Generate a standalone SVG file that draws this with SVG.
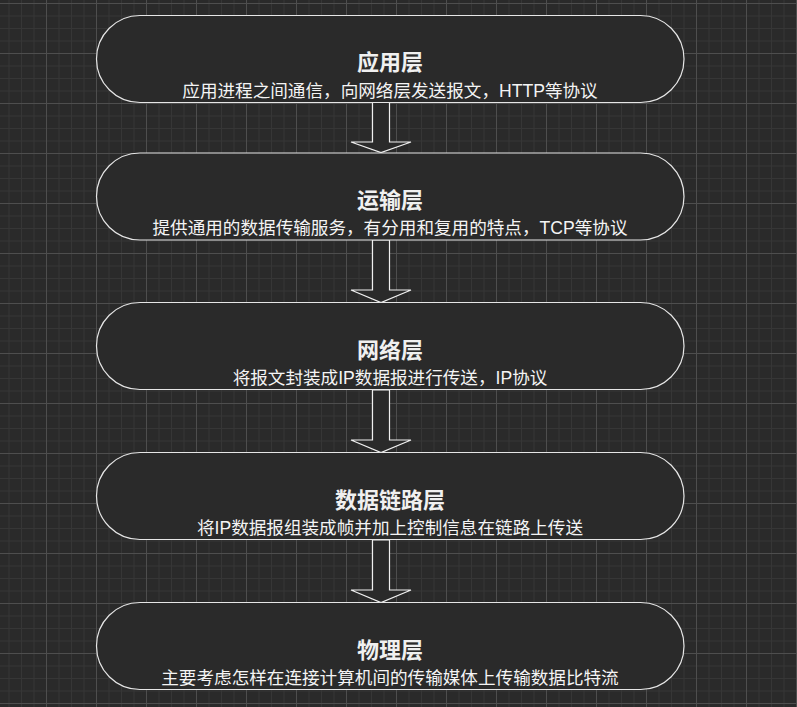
<svg xmlns="http://www.w3.org/2000/svg" width="797" height="707" viewBox="0 0 797 707">
<defs>
<pattern id="grid" patternUnits="userSpaceOnUse" x="-4" y="3" width="50" height="50">
<rect width="50" height="50" fill="#2a2a2a"/>
<rect x="12.5" y="0" width="1" height="50" fill="#363636"/>
<rect x="25" y="0" width="1" height="50" fill="#363636"/>
<rect x="37.5" y="0" width="1" height="50" fill="#363636"/>
<rect x="0" y="12.5" width="50" height="1" fill="#363636"/>
<rect x="0" y="25" width="50" height="1" fill="#363636"/>
<rect x="0" y="37.5" width="50" height="1" fill="#363636"/>
<rect x="0" y="0" width="1" height="50" fill="#4e4e4e"/>
<rect x="0" y="0" width="50" height="1" fill="#4e4e4e"/>
</pattern>
<style>
.node{fill:#2a2a2a;stroke:#e6e6e6;stroke-width:1.2}
.arrow{fill:#2a2a2a;stroke:#f0f0f0;stroke-width:1.2;stroke-linejoin:miter}
.title{font-family:"Liberation Sans","Noto Sans CJK SC",sans-serif;font-size:22px;font-weight:bold;fill:#f0f0f0;text-anchor:middle}
.sub{font-family:"Liberation Sans","Noto Sans CJK SC",sans-serif;font-size:17.6px;fill:#f4f4f4;text-anchor:middle}
</style>
</defs>
<rect width="797" height="707" fill="url(#grid)"/>
<g id="connectors">
<polygon class="arrow" points="372.5,102.5 389.5,102.5 389.5,142 411,142 381,152.5 351,142 372.5,142"/>
<polygon class="arrow" points="372.5,240 389.5,240 389.5,290 411,290 381,302.5 351,290 372.5,290"/>
<polygon class="arrow" points="372.5,390 389.5,390 389.5,440 411,440 381,452.5 351,440 372.5,440"/>
<polygon class="arrow" points="372.5,540 389.5,540 389.5,590 411,590 381,602.5 351,590 372.5,590"/>
</g>
<g id="node-app">
<rect class="node" x="96.5" y="15.5" width="587.5" height="87" rx="43.5" ry="43.5"/>
<text class="title" x="390" y="70">应用层</text>
<text class="sub" x="390" y="97">应用进程之间通信，向网络层发送报文，HTTP等协议</text>
</g>
<g id="node-transport">
<rect class="node" x="96.5" y="153" width="587.5" height="87" rx="43.5" ry="43.5"/>
<text class="title" x="390" y="208">运输层</text>
<text class="sub" x="390" y="234">提供通用的数据传输服务，有分用和复用的特点，TCP等协议</text>
</g>
<g id="node-network">
<rect class="node" x="96.5" y="302.5" width="587.5" height="87" rx="43.5" ry="43.5"/>
<text class="title" x="390" y="357.5">网络层</text>
<text class="sub" x="390" y="383.5">将报文封装成IP数据报进行传送，IP协议</text>
</g>
<g id="node-datalink">
<rect class="node" x="96.5" y="452.5" width="587.5" height="87" rx="43.5" ry="43.5"/>
<text class="title" x="390" y="507.5">数据链路层</text>
<text class="sub" x="390" y="533.5">将IP数据报组装成帧并加上控制信息在链路上传送</text>
</g>
<g id="node-physical">
<rect class="node" x="96.5" y="602.5" width="587.5" height="87" rx="43.5" ry="43.5"/>
<text class="title" x="390" y="657.5">物理层</text>
<text class="sub" x="390" y="683.5">主要考虑怎样在连接计算机间的传输媒体上传输数据比特流</text>
</g>
</svg>
